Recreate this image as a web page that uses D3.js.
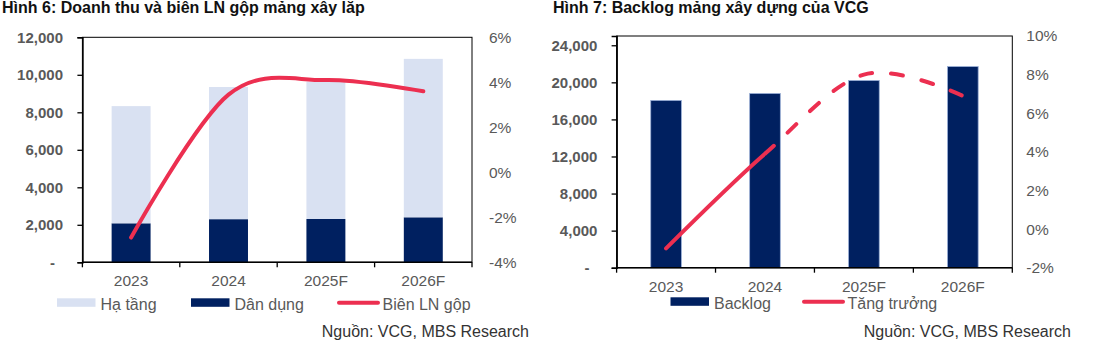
<!DOCTYPE html>
<html>
<head>
<meta charset="utf-8">
<script src="https://cdn.jsdelivr.net/npm/d3@7"></script>
<style>
  body { margin: 0; background: #fff; }
  svg { display: block; font-family: "Liberation Sans", Arial, sans-serif; }
</style>
</head>
<body>
<svg id="chart" width="1101" height="352"></svg>
<script>
// ---- data ----
const years = ["2023", "2024", "2025F", "2026F"];

// Hinh 6
const haTang = [6250, 7050, 7320, 8450];
const danDung = [2080, 2300, 2310, 2400];
const bienLN = [-2.9, 3.45, 4.1, 3.6];
const revTicks = [0, 2000, 4000, 6000, 8000, 10000, 12000];
const marginTicks = [-4, -2, 0, 2, 4, 6];

// Hinh 7
const backlog = [18050, 18800, 20200, 21700];
const tangTruong = [-1.0, 3.9, 8.0, 6.9];
const backlogTicks = [0, 4000, 8000, 12000, 16000, 20000, 24000];
const growthTicks = [-2, 0, 2, 4, 6, 8, 10];

const legend1 = ["Hạ tầng", "Dân dụng", "Biên LN gộp"];
const legend2 = ["Backlog", "Tăng trưởng"];

const LIGHT = "#D9E1F2", NAVY = "#002060", RED = "#EC2F50";
const GREY = "#595959";

const svg = d3.select("#chart");
const fmt = d3.format(",");

function frame(g, x0, x1, y0, y1) {
  g.append("rect")
    .attr("x", x0).attr("y", y1)
    .attr("width", x1 - x0).attr("height", y0 - y1)
    .attr("fill", "none").attr("stroke", "#000").attr("stroke-width", 1);
}

function leftAxis(g, y, ticks, x0, pad) {
  const ax = g.append("g")
    .attr("transform", `translate(${x0},0)`)
    .call(d3.axisLeft(y).tickValues(ticks).tickSize(5).tickPadding(pad)
      .tickFormat(d => d === 0 ? "-" : fmt(d)));
  ax.select(".domain").attr("stroke", "#000").attr("stroke-width", 1.6);
  ax.selectAll(".tick line").attr("stroke", "#000").attr("stroke-width", 1.3);
  ax.selectAll("text")
    .attr("fill", GREY).style("font-size", "15px").style("font-weight", "bold")
    .filter(d => d === 0).attr("x", -(5 + pad + 8));
}

function rightAxis(g, y, ticks, x1, pad) {
  const ax = g.append("g")
    .attr("transform", `translate(${x1},0)`)
    .call(d3.axisRight(y).tickValues(ticks).tickSize(0).tickPadding(pad)
      .tickFormat(d => d + "%"));
  ax.select(".domain").remove();
  ax.selectAll("text").attr("fill", GREY).style("font-size", "15.5px");
}

function bottomAxis(g, x, y0, pad) {
  const ax = g.append("g")
    .attr("transform", `translate(0,${y0})`)
    .call(d3.axisBottom(x).tickSize(0).tickPadding(pad));
  ax.select(".domain").remove();
  ax.selectAll("text").attr("fill", GREY).style("font-size", "15.5px");
  const [r0, r1] = x.range();
  const bounds = d3.range(x.domain().length + 1).map(i => r0 + (r1 - r0) * i / x.domain().length);
  g.append("line")
    .attr("x1", r0).attr("x2", r1).attr("y1", y0).attr("y2", y0)
    .attr("stroke", "#000").attr("stroke-width", 1.6);
  g.selectAll(null).data(bounds).join("line")
    .attr("x1", d => d).attr("x2", d => d)
    .attr("y1", y0).attr("y2", y0 + 5)
    .attr("stroke", "#000").attr("stroke-width", 1.3);
}

function legendItem(g, kind, color, label, x, y) {
  if (kind === "line") {
    g.append("line")
      .attr("x1", x).attr("x2", x + 39).attr("y1", y + 4.5).attr("y2", y + 4.5)
      .attr("stroke", color).attr("stroke-width", 4).attr("stroke-linecap", "round");
  } else {
    g.append("rect").attr("x", x).attr("y", y).attr("width", 38.5).attr("height", 8.5)
      .attr("fill", color);
  }
  g.append("text").attr("x", x + 43.5).attr("y", y + 11.5)
    .attr("fill", GREY).style("font-size", "16px").text(label);
}

// ================= Hinh 6 =================
{
  const g = svg.append("g");
  const X0 = 82.4, X1 = 472, Y0 = 262.3, Y1 = 37.3;

  const x = d3.scaleBand().domain(years).range([X0, X1]).paddingInner(0.6).paddingOuter(0.3);
  const y = d3.scaleLinear().domain([0, 12000]).range([Y0, Y1]);
  const yR = d3.scaleLinear().domain([-4, 6]).range([Y0, Y1]);

  g.append("text").attr("x", 2).attr("y", 13)
    .style("font-size", "16px").style("font-weight", "bold").attr("fill", "#111")
    .text("Hình 6: Doanh thu và biên LN gộp mảng xây lắp");

  frame(g, X0, X1, Y0, Y1);

  const stacked = d3.stack().keys(["dan", "ha"])(
    years.map((yr, i) => ({ year: yr, dan: danDung[i], ha: haTang[i] })));
  const colors = { dan: NAVY, ha: LIGHT };

  g.selectAll(".layer").data(stacked).join("g")
    .attr("fill", d => colors[d.key])
    .selectAll("rect").data(d => d).join("rect")
    .attr("x", d => x(d.data.year))
    .attr("width", x.bandwidth())
    .attr("y", d => y(d[1]))
    .attr("height", d => y(d[0]) - y(d[1]));

  const line = d3.line()
    .x((d, i) => x(years[i]) + x.bandwidth() / 2)
    .y(d => yR(d))
    .curve(d3.curveCardinal.tension(0));

  g.append("path").datum(bienLN)
    .attr("d", line).attr("fill", "none")
    .attr("stroke", RED).attr("stroke-width", 4).attr("stroke-linecap", "round");

  leftAxis(g, y, revTicks, X0, 14.4);
  rightAxis(g, yR, marginTicks, X1, 17);
  bottomAxis(g, x, Y0, 12.7);

  legendItem(g, "rect", LIGHT, legend1[0], 57, 298.3);
  legendItem(g, "rect", NAVY, legend1[1], 191, 298.3);
  legendItem(g, "line", RED, legend1[2], 339, 298.3);

  g.append("text").attr("x", 529).attr("y", 337).attr("text-anchor", "end")
    .style("font-size", "16px").attr("fill", "#333")
    .text("Nguồn: VCG, MBS Research");
}

// ================= Hinh 7 =================
{
  const g = svg.append("g");
  const X0 = 616.6, X1 = 1012.3, Y0 = 267.7, Y1 = 36;

  const x = d3.scaleBand().domain(years).range([X0, X1]).paddingInner(0.69).paddingOuter(0.345);
  const y = d3.scaleLinear().domain([0, 25000]).range([Y0, Y1]);
  const yR = d3.scaleLinear().domain([-2, 10]).range([Y0, Y1]);

  g.append("text").attr("x", 553).attr("y", 13)
    .style("font-size", "16px").style("font-weight", "bold").attr("fill", "#111")
    .text("Hình 7: Backlog mảng xây dựng của VCG");

  frame(g, X0, X1, Y0, Y1);

  g.selectAll(".bar").data(backlog).join("rect")
    .attr("x", (d, i) => x(years[i]))
    .attr("width", x.bandwidth())
    .attr("y", d => y(d))
    .attr("height", d => Y0 - y(d))
    .attr("fill", NAVY).attr("stroke", "#9AAFD6").attr("stroke-width", 0.8);

  const cx = i => x(years[i]) + x.bandwidth() / 2;
  const line = d3.line()
    .x((d, i) => cx(i))
    .y(d => yR(d))
    .curve(d3.curveCardinal.tension(0));

  const defs = svg.append("defs");
  const split = cx(1);
  defs.append("clipPath").attr("id", "solidPart").append("rect")
    .attr("x", 0).attr("y", 0).attr("width", split).attr("height", 352);
  defs.append("clipPath").attr("id", "dashPart").append("rect")
    .attr("x", split).attr("y", 0).attr("width", 1101 - split).attr("height", 352);

  g.append("path").datum(tangTruong)
    .attr("d", line).attr("fill", "none").attr("clip-path", "url(#solidPart)")
    .attr("stroke", RED).attr("stroke-width", 4).attr("stroke-linecap", "round");

  const dashed = g.append("path").datum(tangTruong)
    .attr("d", line).attr("fill", "none").attr("clip-path", "url(#dashPart)")
    .attr("stroke", RED).attr("stroke-width", 4).attr("stroke-linecap", "round")
    .attr("stroke-dasharray", "12,19");

  // start the dash pattern at the 2024 point
  const node = dashed.node();
  let lo = 0, hi = node.getTotalLength();
  for (let k = 0; k < 40; k++) {
    const mid = (lo + hi) / 2;
    if (node.getPointAtLength(mid).x < split) lo = mid; else hi = mid;
  }
  dashed.attr("stroke-dashoffset", -lo);

  leftAxis(g, y, backlogTicks, X0, 14.2);
  rightAxis(g, yR, growthTicks, X1, 14);
  bottomAxis(g, x, Y0, 13);

  legendItem(g, "rect", NAVY, legend2[0], 670.5, 297.3);
  legendItem(g, "line", RED, legend2[1], 804, 297.3);

  g.append("text").attr("x", 1071).attr("y", 337).attr("text-anchor", "end")
    .style("font-size", "16px").attr("fill", "#333")
    .text("Nguồn: VCG, MBS Research");
}
</script>
</body>
</html>
